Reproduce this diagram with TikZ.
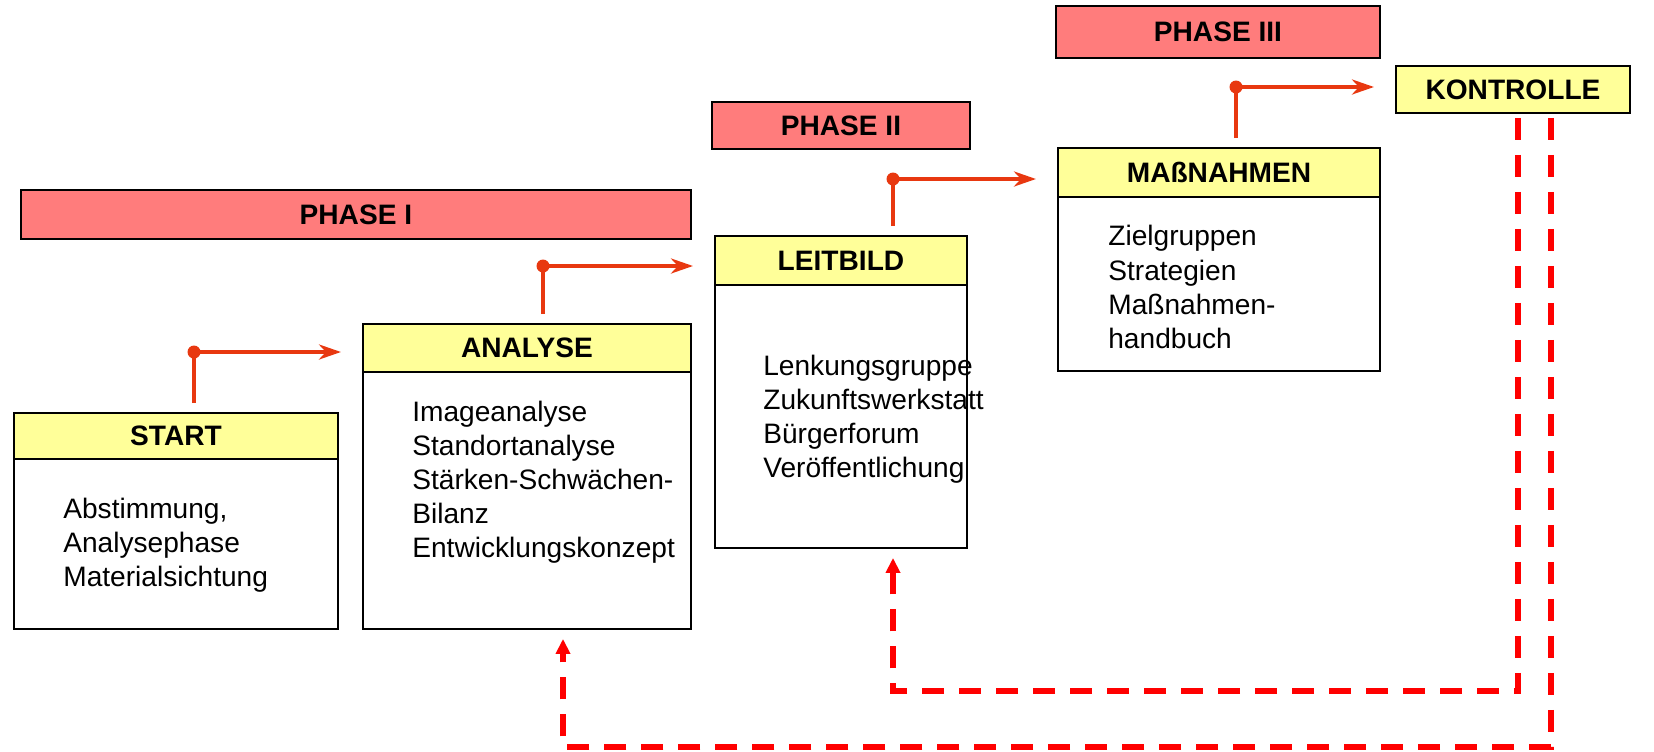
\documentclass[tikz,border=0pt]{standalone}
\usepackage{fontspec}
\setmainfont{Liberation Sans}
\usetikzlibrary{positioning,arrows.meta}
\definecolor{phasered}{RGB}{255,124,124}
\definecolor{headyellow}{RGB}{255,255,153}
\definecolor{flowred}{RGB}{232,56,16}
\definecolor{backred}{RGB}{255,0,0}
\begin{document}
\begin{tikzpicture}[x=0.02cm, y=-0.02cm,
    phase/.style={draw=black, line width=1.3pt, fill=phasered, inner sep=0pt, outer sep=0pt, anchor=north west, font=\fontsize{16}{19.4}\selectfont\bfseries},
    head/.style={draw=black, line width=1.3pt, fill=headyellow, inner sep=0pt, outer sep=0pt, anchor=north west, font=\fontsize{16}{19.4}\selectfont\bfseries},
    body/.style={draw=black, line width=1pt, inner sep=0pt, outer sep=0pt},
    txt/.style={anchor=west, align=left, inner sep=0pt, font=\fontsize{16}{19.4}\selectfont},
    dot/.style={circle, fill=flowred, inner sep=0pt, minimum size=0.26cm},
    flow/.style={draw=flowred, line width=2.5pt, -{Stealth[length=0.44cm, width=0.3cm, inset=0.14cm]}, shorten <=0.2cm, shorten >=0.44cm},
    back/.style={draw=backred, line width=3pt, dash pattern=on 0.44cm off 0.3cm, -{Triangle[length=0.3cm, width=0.28cm]}, shorten <=0.1cm, shorten >=0.2cm}]
    \useasboundingbox (0,0) rectangle (1654,751);

    % phases
    \node[phase, minimum width=13.4cm, minimum height=0.98cm] (phase1) at (21,190) {PHASE I};
    \node[phase, minimum width=5.16cm, minimum height=0.94cm] (phase2) at (712,102) {PHASE II};
    \node[phase, minimum width=6.48cm, minimum height=1.04cm] (phase3) at (1056,6) {PHASE III};

    % boxes
    \node[head, minimum width=6.48cm, minimum height=0.92cm] (startH) at (14,413) {START};
    \node[body, minimum width=6.48cm, minimum height=3.4cm, below=0pt of startH] (startB) {};
    \node[head, minimum width=6.56cm, minimum height=0.96cm] (anaH) at (363,324) {ANALYSE};
    \node[body, minimum width=6.56cm, minimum height=5.14cm, below=0pt of anaH] (anaB) {};
    \node[head, minimum width=5.04cm, minimum height=0.98cm] (leitH) at (715,236) {LEITBILD};
    \node[body, minimum width=5.04cm, minimum height=5.26cm, below=0pt of leitH] (leitB) {};
    \node[head, minimum width=6.44cm, minimum height=0.98cm] (massH) at (1058,148) {MAßNAHMEN};
    \node[body, minimum width=6.44cm, minimum height=3.48cm, below=0pt of massH] (massB) {};
    \node[head, minimum width=4.68cm, minimum height=0.94cm] (kontH) at (1396,66) {KONTROLLE};

    % texts
    \node[txt] (startT) at (63,545) {Abstimmung,\\Analysephase\\Materialsichtung};
    \node[txt] (anaT) at (412,482) {Imageanalyse\\Standortanalyse\\Stärken-Schwächen-\\Bilanz\\Entwicklungskonzept};
    \node[txt] (leitT) at (763,419) {Lenkungsgruppe\\Zukunftswerkstatt\\Bürgerforum\\Veröffentlichung};
    \node[txt] (massT) at (1108,287) {Zielgruppen\\Strategien\\Maßnahmen-\\handbuch};

    % steps
    \node[dot] (d1) at (194,352) {};
    \draw[flow] (startH.north -| d1) -- (d1.center) -- (anaH.west |- d1);
    \node[dot] (d2) at (543,266) {};
    \draw[flow] (anaH.north -| d2) -- (d2.center) -- (leitH.west |- d2);
    \node[dot] (d3) at (893,179) {};
    \draw[flow] (leitH.north -| d3) -- (d3.center) -- (massH.west |- d3);
    \node[dot] (d4) at (1236,87) {};
    \draw[flow] (massH.north -| d4) -- (d4.center) -- (kontH.west |- d4);

    % feedback
    \coordinate (c1) at (1518,691);
    \coordinate (c2) at (893,691);
    \draw[back] (kontH.south -| c1) -- (c1) -- (c2) -- (leitB.south -| c2);
    \coordinate (c3) at (1551,747);
    \coordinate (c4) at (563,747);
    \draw[back] (kontH.south -| c3) -- (c3) -- (c4) -- (anaB.south -| c4);
\end{tikzpicture}
\end{document}
